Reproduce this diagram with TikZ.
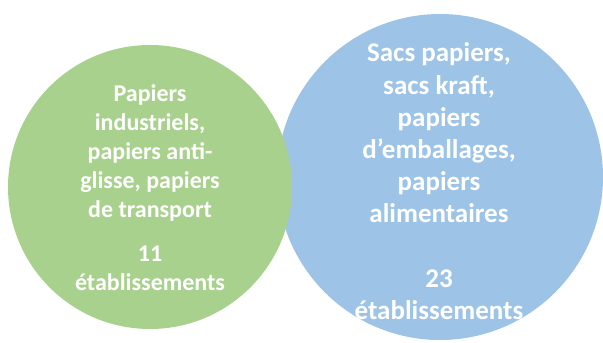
\documentclass[tikz,border=0pt]{standalone}
\usepackage{fontspec}
\setmainfont{Carlito}
\definecolor{vgreen}{HTML}{A9D18E}
\definecolor{vblue}{HTML}{9DC3E6}
\tikzset{
  setcircle/.style={circle, inner sep=0pt, draw=none},
  gtext/.style={text=white, align=center, font=\bfseries\fontsize{24}{28.8}\selectfont, inner sep=0pt},
  btext/.style={text=white, align=center, font=\bfseries\fontsize{27}{32.2}\selectfont, inner sep=0pt},
}
\begin{document}
\begin{tikzpicture}[x=1pt,y=-1pt]
\useasboundingbox (0,0) rectangle (603,343);
\node[setcircle, fill=vblue, minimum size=326pt] (blue) at (440,177) {};
\node[setcircle, fill=vgreen, minimum size=284pt] (green) at (150,187) {};
\node[gtext] (gmain) at (150,153) {Papiers\\industriels,\\papiers anti-\\glisse, papiers\\de transport};
\node[gtext] (gcount) at (150,268) {11\\établissements};
\node[btext] (bmain) at (439,133) {Sacs papiers,\\sacs kraft,\\papiers\\d’emballages,\\papiers\\alimentaires};
\node[btext] (bcount) at (439,295) {23\\établissements};
\end{tikzpicture}
\end{document}
